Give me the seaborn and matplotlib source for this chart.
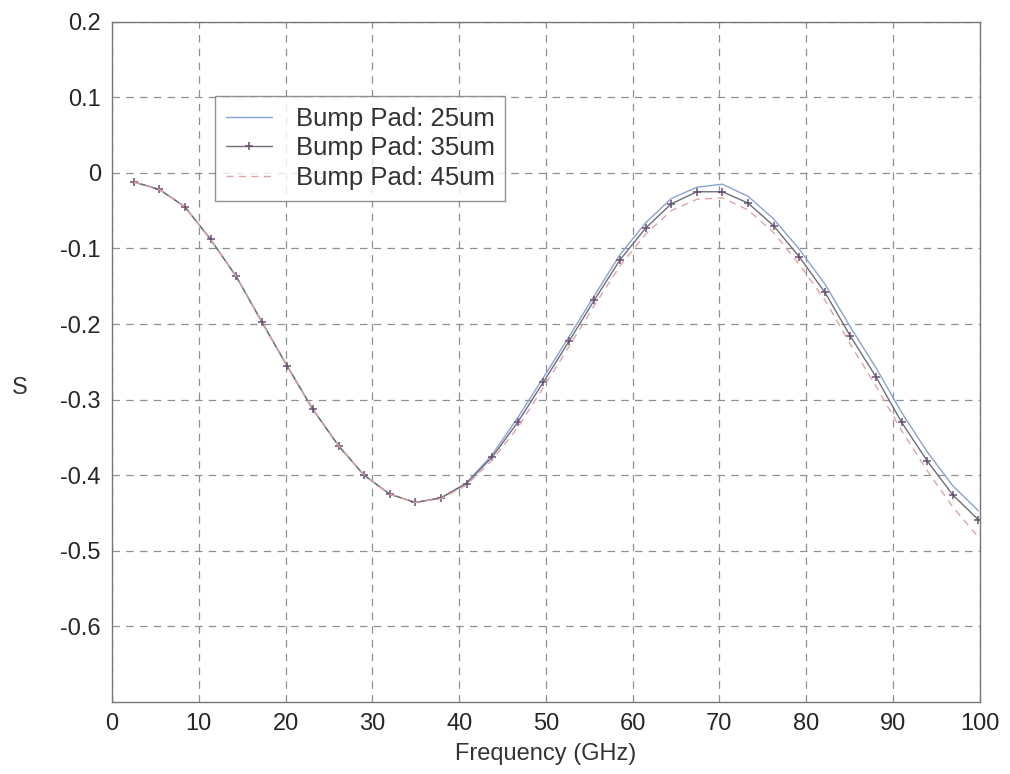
import numpy as np
import pandas as pd
import matplotlib
matplotlib.use('Agg')
import matplotlib.pyplot as plt
import seaborn as sns

# Fréquences (GHz) des points mesurés
freq = [2.5, 5.45, 8.4, 11.35, 14.3, 17.25, 20.2, 23.15, 26.1, 29.05,
        32.0, 34.95, 37.9, 40.85, 43.8, 46.75, 49.7, 52.65, 55.6, 58.55,
        61.5, 64.45, 67.4, 70.35, 73.3, 76.25, 79.2, 82.15, 85.1, 88.05,
        91.0, 93.95, 96.9, 99.85]

s_35 = [-0.012, -0.022, -0.045, -0.088, -0.137, -0.197, -0.256, -0.313, -0.361, -0.400,
        -0.425, -0.436, -0.430, -0.411, -0.376, -0.330, -0.277, -0.223, -0.168, -0.115,
        -0.073, -0.041, -0.025, -0.025, -0.040, -0.070, -0.111, -0.158, -0.216, -0.270,
        -0.330, -0.381, -0.426, -0.459]

s_25 = [-0.012, -0.022, -0.045, -0.088, -0.137, -0.197, -0.256, -0.313, -0.361, -0.400,
        -0.425, -0.436, -0.430, -0.410, -0.373, -0.324, -0.271, -0.217, -0.162, -0.108,
        -0.066, -0.034, -0.019, -0.015, -0.031, -0.061, -0.101, -0.147, -0.204, -0.258,
        -0.317, -0.369, -0.414, -0.447]

s_45 = [-0.012, -0.022, -0.045, -0.088, -0.137, -0.197, -0.256, -0.313, -0.361, -0.400,
        -0.425, -0.436, -0.431, -0.413, -0.380, -0.337, -0.284, -0.230, -0.175, -0.123,
        -0.081, -0.050, -0.035, -0.033, -0.049, -0.079, -0.121, -0.168, -0.227, -0.282,
        -0.341, -0.394, -0.442, -0.482]

labels = ['Bump Pad: 25um', 'Bump Pad: 35um', 'Bump Pad: 45um']

df = pd.DataFrame({'freq': freq * 3,
                   'S': s_25 + s_35 + s_45,
                   'pad': [labels[0]] * len(freq) + [labels[1]] * len(freq) + [labels[2]] * len(freq)})

sns.set_style('white')
plt.rcParams['font.family'] = ['Liberation Sans', 'DejaVu Sans']

fig = plt.figure(figsize=(10.1, 7.74), dpi=100)
ax = fig.add_axes([0.111, 0.093, 0.859, 0.879])

couleurs = ['#86a3d8', '#6e6e7a', '#e6a2a2']
styles = ['-', '-', (0, (5, 4))]
for lab, c, ls in zip(labels, couleurs, styles):
    sub = df[df['pad'] == lab]
    sns.lineplot(data=sub, x='freq', y='S', ax=ax, color=c, linewidth=1.0,
                 linestyle=ls, label=lab,
                 marker='+' if lab == labels[1] else None,
                 markersize=6, markeredgecolor='#6a5070', markeredgewidth=1.1)

ax.set_xlim(0, 100)
ax.set_ylim(-0.7, 0.2)
ax.set_xticks(np.arange(0, 101, 10))
ax.set_yticks([0.2, 0.1, 0, -0.1, -0.2, -0.3, -0.4, -0.5, -0.6])
ax.set_yticklabels(['0.2', '0.1', '0', '-0.1', '-0.2', '-0.3', '-0.4', '-0.5', '-0.6'])
ax.tick_params(direction='in', length=5, labelsize=17, color='#555555', pad=8)
ax.grid(True, linestyle=(0, (6, 5)), color='#909090', linewidth=0.9)
for sp in ax.spines.values():
    sp.set_color('#777777')
    sp.set_linewidth(1.0)

ax.set_xlabel('Frequency (GHz)', fontsize=17, color='#333333', labelpad=6)
ax.set_ylabel('S', fontsize=17, rotation=0, color='#333333', va='center', ha='center')
ax.yaxis.set_label_coords(-0.107, 0.462)

leg = ax.legend(loc='upper left', bbox_to_anchor=(0.119, 0.891), fontsize=18.5,
                frameon=True, fancybox=False, borderpad=0.42, labelspacing=0.22,
                handlelength=1.8, handletextpad=0.9, borderaxespad=0)
leg.get_frame().set_edgecolor('#777777')
leg.get_frame().set_linewidth(1.0)
for t in leg.get_texts():
    t.set_color('#333333')

fig.savefig('out.png', dpi=100)
